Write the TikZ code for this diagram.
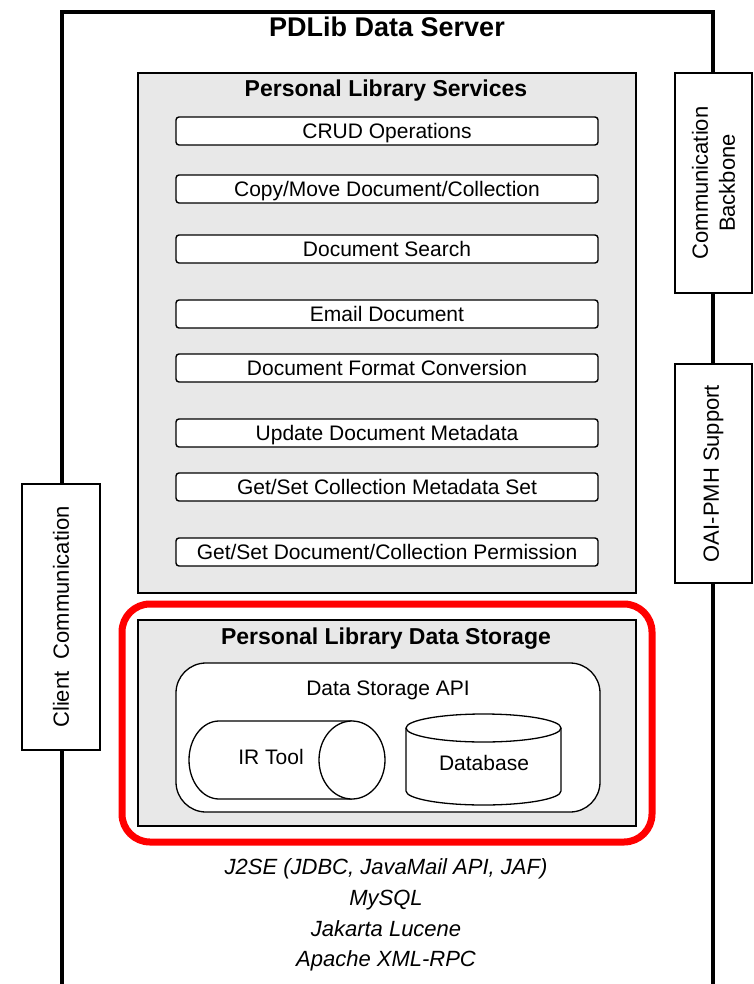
\documentclass[tikz,border=0pt]{standalone}
\usepackage{fontspec}
\setmainfont{Liberation Sans}
\definecolor{panel}{RGB}{232,232,232}
\definecolor{hl}{RGB}{255,0,0}
\begin{document}
\begin{tikzpicture}[x=1pt,y=1pt,
  lbl/.style={inner sep=0pt, anchor=base},
  svc/.style={draw, line width=1.4pt, rounded corners=3pt, fill=white,
    minimum width=422pt, minimum height=28pt, inner sep=0pt,
    text height=15pt, text depth=0pt, font=\fontsize{21}{24}\selectfont},
  panelbox/.style={draw, line width=2.8pt, fill=panel},
  side/.style={draw, line width=2.6pt, fill=white, inner sep=0pt, minimum width=77pt},
  sidetxt/.style={rotate=90, align=center, font=\fontsize{22}{27}\selectfont},
  ttl/.style={lbl, font=\bfseries\fontsize{23}{26}\selectfont},
  body/.style={lbl, font=\fontsize{21}{24}\selectfont},
  thin/.style={draw, line width=1.3pt},
  foot/.style={lbl, font=\itshape\fontsize{22}{26}\selectfont}
]
\useasboundingbox (0,0) rectangle (754,-984);
\fill[white] (0,0) rectangle (754,-984);

% outer server frame
\coordinate (bl) at (62,-995);
\coordinate (tl) at (62,-12);
\coordinate (tr) at (713,-12);
\coordinate (br) at (713,-995);
\draw[line width=4pt] (bl) -- (tl) -- (tr) -- (br);
\node[lbl, font=\bfseries\fontsize{27}{30}\selectfont] (title) at (387,-37) {PDLib Data Server};

% Personal Library Services
\draw[panelbox] (138,-73) rectangle (636,-593);
\node[ttl] (pls) at (386,-97) {Personal Library Services};
\node[svc] (s1) at (387,-131) {CRUD Operations};
\node[svc] (s2) at (387,-189) {Copy/Move Document/Collection};
\node[svc] (s3) at (387,-249) {Document Search};
\node[svc] (s4) at (387,-314) {Email Document};
\node[svc] (s5) at (387,-368) {Document Format Conversion};
\node[svc] (s6) at (387,-433) {Update Document Metadata};
\node[svc] (s7) at (387,-487) {Get/Set Collection Metadata Set};
\node[svc] (s8) at (387,-552) {Get/Set Document/Collection Permission};

% Personal Library Data Storage
\draw[panelbox] (138,-620) rectangle (636,-826);
\node[ttl] (plds) at (386,-644) {Personal Library Data Storage};
\draw[thin, fill=white, rounded corners=30pt] (176,-663) rectangle (600,-812);
\node[body] (api) at (388,-695.5) {Data Storage API};

% IR Tool cylinder (horizontal)
\draw[thin, fill=white] (352,-721) -- (219,-721)
   arc[start angle=90, end angle=270, x radius=30, y radius=39] -- (352,-799);
\draw[thin, fill=white] (352,-760) ellipse [x radius=33, y radius=39];
\node[body] (ir) at (271,-764.5) {IR Tool};

% Database cylinder (vertical)
\draw[thin, fill=white] (406,-728) -- (406,-791)
   arc[start angle=180, end angle=360, x radius=77.5, y radius=14] -- (561,-728);
\draw[thin, fill=white] (483.5,-728) ellipse [x radius=77.5, y radius=14];
\node[body] (db) at (484,-770.5) {Database};

% red highlight
\draw[hl, line width=7pt, rounded corners=28pt] (122,-604) rectangle (652,-842);

% side boxes
\node[side, minimum height=220pt] (cb) at (713.5,-183) {};
\node[sidetxt] (cbt) at (cb.center) {Communication\\Backbone};
\node[side, minimum height=219pt] (oai) at (713.5,-473.5) {};
\node[sidetxt] (oait) at (oai.center) {OAI-PMH Support};
\node[side, minimum width=78pt, minimum height=266pt] (cc) at (61,-617) {};
\node[sidetxt] (cct) at (cc.center) {Client\ \ Communication};

% technologies
\node[foot] (f1) at (386,-874) {J2SE (JDBC, JavaMail API, JAF)};
\node[foot] (f2) at (386,-905) {MySQL};
\node[foot] (f3) at (386,-936) {Jakarta Lucene};
\node[foot] (f4) at (386,-966) {Apache XML-RPC};
\end{tikzpicture}
\end{document}
